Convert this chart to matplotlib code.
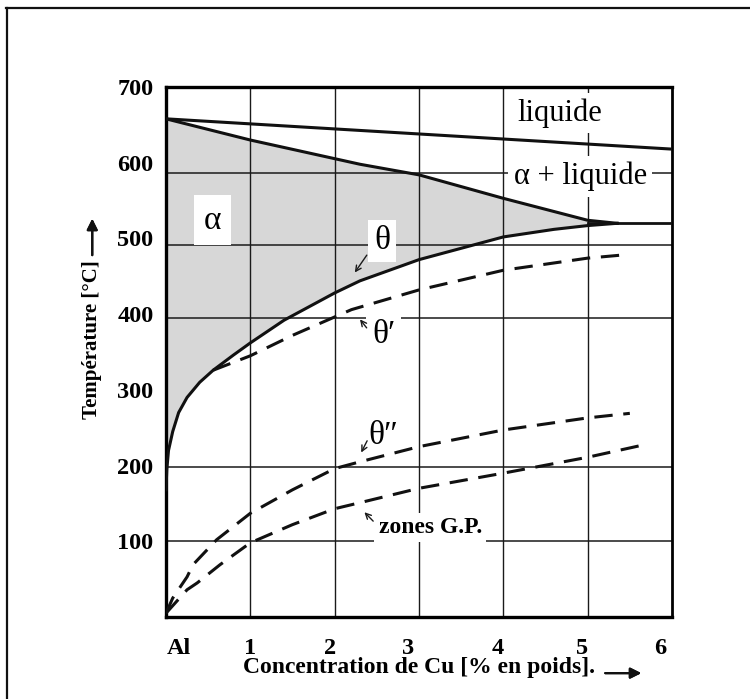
import matplotlib
matplotlib.use("Agg")
import matplotlib.pyplot as plt
from matplotlib.lines import Line2D

plt.rcParams['font.family'] = ['Liberation Serif', 'DejaVu Serif']

# Al-Cu phase diagram, Al-rich side (wt% Cu, degC)
liq_x = [0.0, 6.0]
liq_T = [658, 618]

sol_x = [0.0, 1.0, 2.3, 3.0, 4.0, 5.0, 5.35]
sol_T = [658, 630, 598, 584, 553, 524, 520]

eut_x = [5.0, 6.0]
eut_T = [520, 520]

# theta solvus
solv_x = [0.0, 0.01, 0.03, 0.08, 0.15, 0.25, 0.4, 0.56, 0.8, 1.0, 1.4, 2.0, 2.3, 3.0, 4.0, 4.6, 5.0, 5.35]
solv_T = [168, 195, 220, 245, 270, 290, 310, 326, 346, 362, 392, 428, 444, 472, 502, 512, 517, 520]

# metastable solvus lines (dashed)
th1_x = [0.56, 1.0, 1.5, 2.2, 3.0, 4.0, 5.0, 5.4]
th1_T = [326, 345, 372, 406, 432, 458, 474, 478]

th2_x = [0.0, 0.08, 0.25, 0.32, 0.6, 1.0, 1.5, 2.0, 2.3, 3.0, 4.0, 5.0, 5.5]
th2_T = [5, 25, 53, 69, 102, 137, 168, 196, 205, 225, 247, 263, 269]

gp_x = [0.0, 0.25, 0.37, 0.64, 1.0, 1.5, 2.0, 2.3, 3.0, 4.0, 5.0, 5.65]
gp_T = [5, 36, 45, 69, 98, 122, 143, 151, 170, 190, 211, 227]

# old drawn grid of the figure
hgrid = [100, 198, 395, 491, 587]
vgrid = [1, 2, 3, 4, 5]

ytick_vals = [100, 200, 300, 400, 500, 600, 700]
xtick_pos = [0.15, 1.0, 1.94, 2.87, 3.93, 4.93, 5.86]
xtick_lab = ['Al', '1', '2', '3', '4', '5', '6']

fig = plt.figure(figsize=(7.5, 6.99), dpi=100)
ax = fig.add_axes([0.2213, 0.1173, 0.6747, 0.7582])
ax.set_xlim(0, 6)
ax.set_ylim(0, 700)

# alpha field
fx = sol_x + solv_x[::-1]
fT = sol_T + solv_T[::-1]
ax.fill(fx, fT, color='#d7d7d7', lw=0, zorder=1)

for h in hgrid:
    ax.axhline(h, color='#1a1a1a', lw=1.1, zorder=1.5)
for v in vgrid:
    ax.axvline(v, color='#1a1a1a', lw=1.0, zorder=1.5)

box = dict(facecolor='white', edgecolor='none', pad=4)
ax.text(4.67, 666, 'liquide', fontsize=22, ha='center', va='center', bbox=box, zorder=2.5)
ax.text(4.91, 582, 'α + liquide', fontsize=22, ha='center', va='center', bbox=box, zorder=2.5)
ax.text(0.55, 524, 'α', fontsize=24, ha='center', va='center',
        bbox=dict(facecolor='white', edgecolor='none', pad=7), zorder=2.5)
ax.text(2.56, 497, 'θ', fontsize=24, ha='center', va='center', bbox=box, zorder=2.5)
ax.text(2.58, 373, 'θ′', fontsize=24, ha='center', va='center', bbox=box, zorder=2.5)
ax.text(2.58, 240, 'θ″', fontsize=24, ha='center', va='center', zorder=2.5)
ax.text(2.52, 118, 'zones G.P.', fontsize=17, fontweight='bold', ha='left', va='center',
        bbox=dict(facecolor='white', edgecolor='none', pad=3), zorder=2.5)

arr = dict(arrowstyle='->', lw=1.0, color='#1a1a1a', mutation_scale=10)
ax.annotate('', xy=(2.22, 452), xytext=(2.40, 481), arrowprops=arr, zorder=3)
ax.annotate('', xy=(2.28, 396), xytext=(2.40, 379), arrowprops=arr, zorder=3)
ax.annotate('', xy=(2.30, 214), xytext=(2.40, 236), arrowprops=arr, zorder=3)
ax.annotate('', xy=(2.33, 141), xytext=(2.48, 124), arrowprops=arr, zorder=3)

ax.plot(liq_x, liq_T, color='#111111', lw=2.2, zorder=3)
ax.plot(sol_x, sol_T, color='#111111', lw=2.2, zorder=3)
ax.plot(eut_x, eut_T, color='#111111', lw=2.0, zorder=3)
ax.plot(solv_x, solv_T, color='#111111', lw=2.2, zorder=3)
ax.plot(th1_x, th1_T, color='#111111', lw=2.2, ls=(0, (6, 3.5)), zorder=3)
ax.plot(th2_x, th2_T, color='#111111', lw=2.2, ls=(0, (6, 3.5)), zorder=3)
ax.plot(gp_x, gp_T, color='#111111', lw=2.2, ls=(0, (6, 3.5)), zorder=3)

for s in ['left', 'bottom', 'top']:
    ax.spines[s].set_linewidth(2.4)
ax.spines['right'].set_linewidth(2.0)

ax.set_yticks(ytick_vals)
ax.set_yticklabels([str(v) for v in ytick_vals])
ax.set_xticks(xtick_pos)
ax.set_xticklabels(xtick_lab)
ax.tick_params(axis='both', length=0, labelsize=17.5)
ax.tick_params(axis='y', pad=9)
ax.tick_params(axis='x', pad=15)
for lab in ax.get_xticklabels() + ax.get_yticklabels():
    lab.set_fontweight('bold')

ax.text(-0.146, 0.523, 'Température [°C]', rotation=90, fontsize=15, fontweight='bold',
        ha='center', va='center', transform=ax.transAxes)
ax.text(0.501, -0.096, 'Concentration de Cu [% en poids].', fontsize=17, fontweight='bold',
        ha='center', va='center', transform=ax.transAxes)

# the two axis arrows
bigarr = dict(arrowstyle='-|>', lw=1.6, color='#111111', mutation_scale=16, shrinkA=0, shrinkB=0)
fig.add_artist(plt.annotate('', xy=(0.855, 0.037), xytext=(0.807, 0.037),
                            xycoords='figure fraction', arrowprops=bigarr))
fig.add_artist(plt.annotate('', xy=(0.123, 0.687), xytext=(0.123, 0.635),
                            xycoords='figure fraction', arrowprops=bigarr))

# frame of the scanned page (only top and left edges show)
fig.add_artist(Line2D([0.008, 1.0], [0.989, 0.989], color='#111111', lw=1.6))
fig.add_artist(Line2D([0.009, 0.009], [0.0, 0.989], color='#111111', lw=1.6))

fig.savefig('out.png', dpi=100)
